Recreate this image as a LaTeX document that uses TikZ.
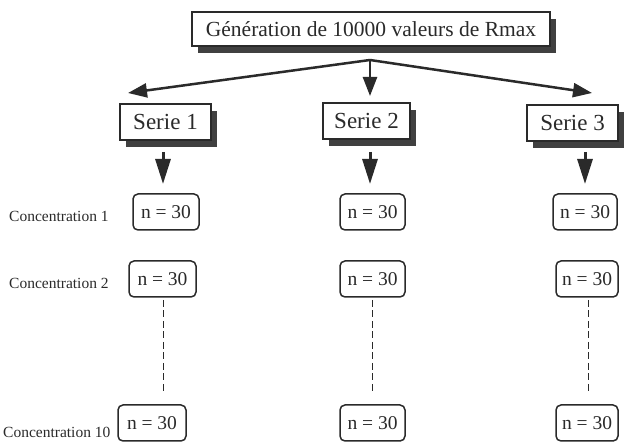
\documentclass[tikz,border=0pt]{standalone}
\usepackage{fontspec}
\setmainfont{Liberation Serif}
\usetikzlibrary{arrows.meta,shadows}
\definecolor{ink}{HTML}{2A2A2A}
\definecolor{shade}{HTML}{404040}
\tikzset{
  shbox/.style={draw=ink, line width=1.3pt, fill=white, inner sep=0pt,
    minimum height=36pt, text=ink,
    drop shadow={shadow xshift=6pt, shadow yshift=-7pt, fill=shade, opacity=1}},
  nbox/.style={draw=ink, line width=1.5pt, rounded corners=5pt, fill=white,
    inner sep=0pt, minimum height=36pt, font=\fontsize{19.5}{19.5}\selectfont, text=ink},
  lab/.style={anchor=west, inner sep=0pt, font=\fontsize{15.5}{15.5}\selectfont, text=ink},
  bigarr/.style={draw=ink, line width=2.5pt, -{Triangle[length=19pt,width=14pt]}},
  downarr/.style={draw=ink, line width=3pt, -{Triangle[length=25pt,width=15pt]}},
  dots/.style={draw=ink, line width=1pt, dash pattern=on 7pt off 3.5pt}
}
\begin{document}
\begin{tikzpicture}[x=1pt,y=-1pt]
\useasboundingbox (0,0) rectangle (630,443);
% top box
\node[shbox, minimum width=358pt, minimum height=34pt, font=\fontsize{21.5}{21.5}\selectfont] (top) at (371,29) {Génération de 10000 valeurs de Rmax};
\coordinate (apex) at (370,60);
\coordinate (t1) at (128,93);
\coordinate (t2) at (370,96);
\coordinate (t3) at (592,93);
\draw[bigarr] (apex) -- (t1);
\draw[bigarr] (apex) -- (t2);
\draw[bigarr] (apex) -- (t3);
% series
\node[shbox, minimum width=91pt, font=\fontsize{23}{23}\selectfont] (s1) at (165.5,122) {Serie 1};
\node[shbox, minimum width=87pt, font=\fontsize{23}{23}\selectfont] (s2) at (366.5,121) {Serie 2};
\node[shbox, minimum width=91pt, font=\fontsize{23}{23}\selectfont] (s3) at (572.5,123) {Serie 3};
% n boxes
\node[nbox, minimum width=66pt] (a1) at (166,212) {n = 30};
\node[nbox, minimum width=67pt] (a2) at (162.5,279) {n = 30};
\node[nbox, minimum width=68pt] (a3) at (152,423) {n = 30};
\node[nbox, minimum width=65pt] (b1) at (372.5,212) {n = 30};
\node[nbox, minimum width=65pt] (b2) at (372.5,279) {n = 30};
\node[nbox, minimum width=65pt] (b3) at (372.5,423) {n = 30};
\node[nbox, minimum width=64pt] (c1) at (585,212) {n = 30};
\node[nbox, minimum width=62pt] (c2) at (587,279) {n = 30};
\node[nbox, minimum width=62pt] (c3) at (587,423) {n = 30};
% down arrows
\coordinate (d1) at (163,152); \coordinate (e1) at (163,184);
\coordinate (d2) at (370,152); \coordinate (e2) at (370,184);
\coordinate (d3) at (585,152); \coordinate (e3) at (585,184);
\draw[downarr] (d1) -- (e1);
\draw[downarr] (d2) -- (e2);
\draw[downarr] (d3) -- (e3);
% dashed
\draw[dots] (163,300) -- (163,392);
\draw[dots] (372,300) -- (372,392);
\draw[dots] (588,300) -- (588,392);
% labels
\node[lab] (l1) at (9,216) {Concentration 1};
\node[lab] (l2) at (9,283) {Concentration 2};
\node[lab] (l3) at (3,432) {Concentration 10};
\end{tikzpicture}
\end{document}
